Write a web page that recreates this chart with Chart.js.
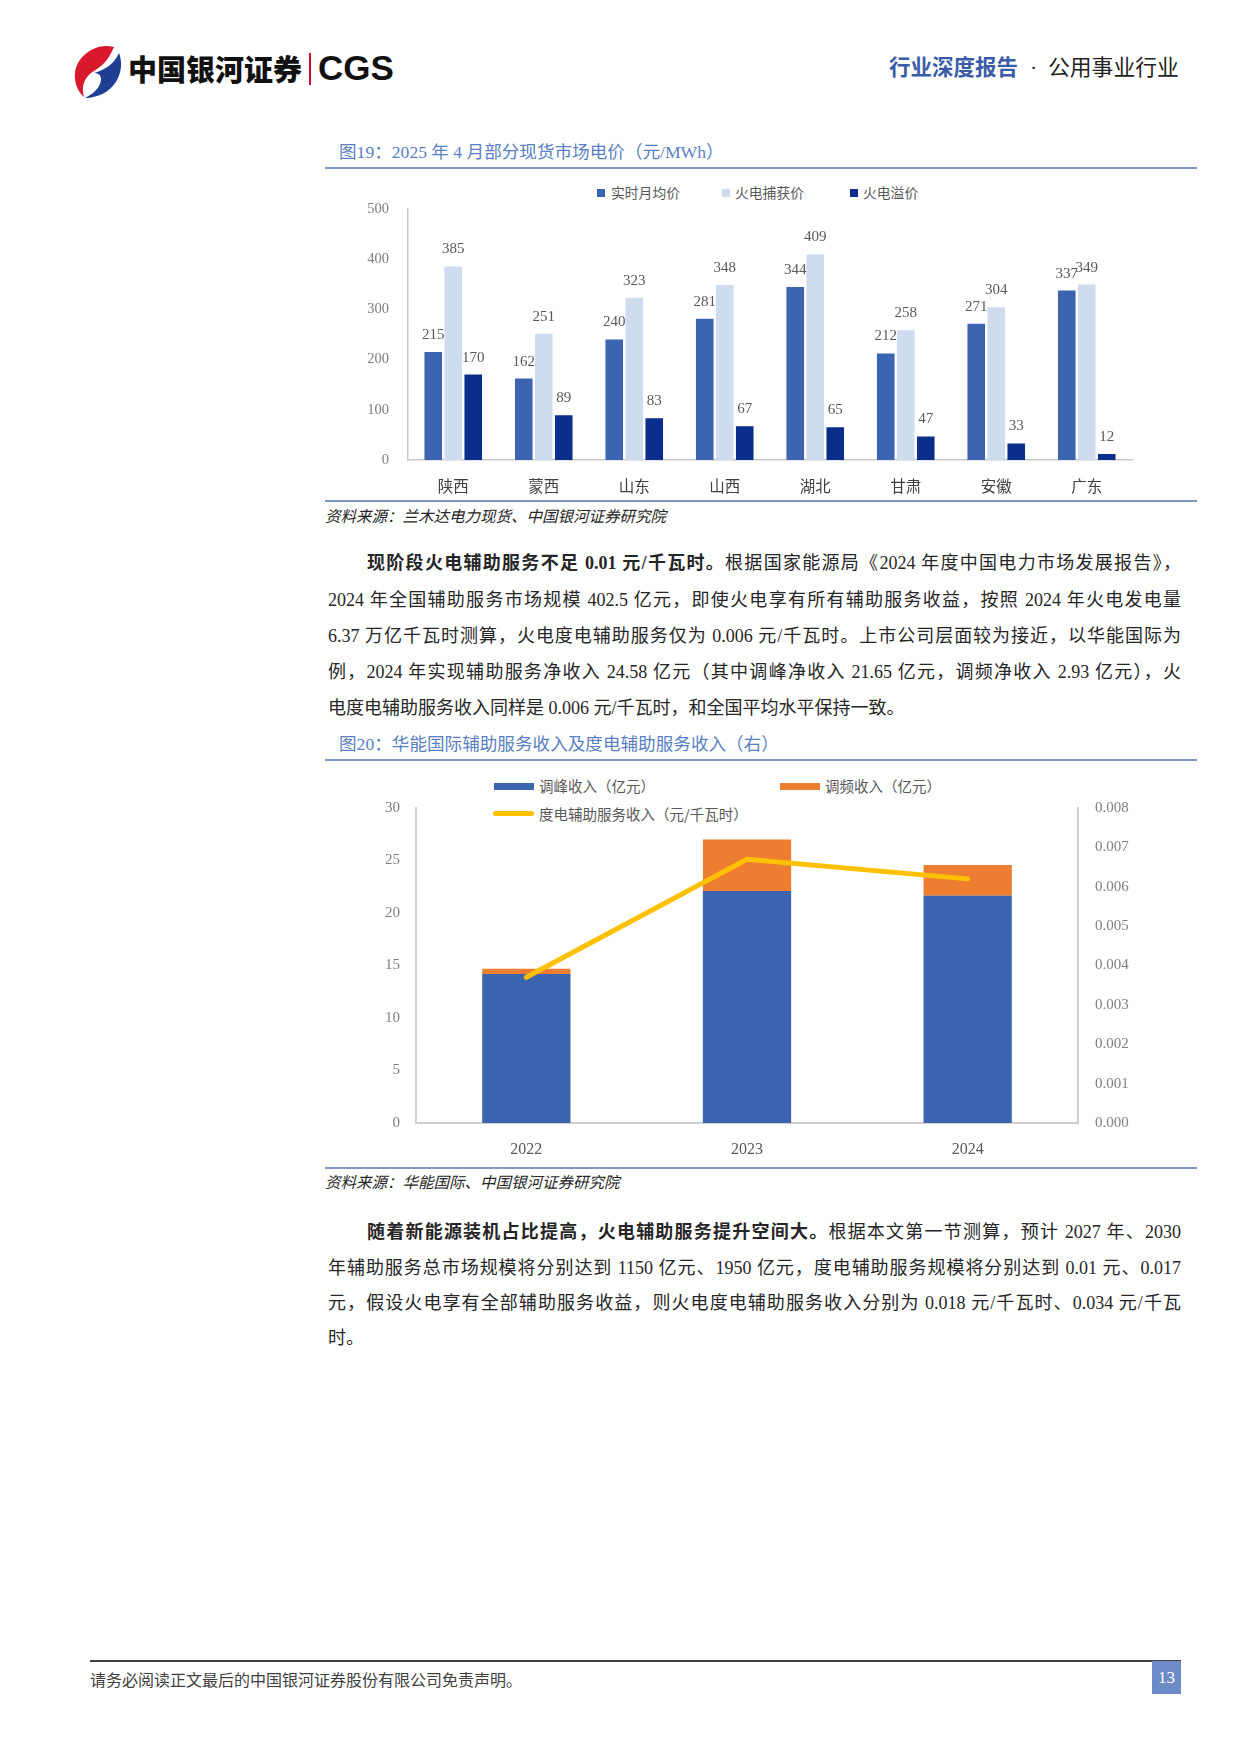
<!DOCTYPE html>
<html>
<head>
<meta charset="utf-8">
<script src="https://cdn.jsdelivr.net/npm/chart.js@4.4.1/dist/chart.umd.min.js"></script>
<style>
  html, body { margin:0; padding:0; background:#fff; }
  body { width:1241px; height:1754px; position:relative; overflow:hidden;
         font-family:"Liberation Serif","Noto Sans CJK SC",serif; color:#262626; }
  .abs { position:absolute; white-space:nowrap; }
  .rule { position:absolute; left:325px; width:872px; height:2px; background:#8196c4; }
  .title { position:absolute; left:339px; font-size:17.6px; color:#5a7fc2; line-height:24px; white-space:nowrap; }
  .src { position:absolute; left:325px; font-size:15.5px; font-style:italic; color:#262626; line-height:20px; white-space:nowrap; }
  .line { position:absolute; font-size:18px; line-height:36px; height:36px; color:#262626; }
  .j { text-align:justify; text-align-last:justify; }
  .leg { position:absolute; font-family:"Noto Sans CJK SC",sans-serif; color:#595959; white-space:nowrap; }
  .sq { position:absolute; }
  canvas { position:absolute; }
</style>
</head>
<body>
<!-- header -->
<svg class="abs" style="left:72px;top:44px" width="50" height="54" viewBox="0 0 50 54">
  <path d="M42 3 C24 -2 4 12 3 30 C2 40 7 49 12 53 C9 43 12 33 22 27 C30 22 36 17 42 3 Z" fill="#d8192b"/>
  <path d="M47 9 C52 22 48 39 34 48 C27 52 19 54 13 54 C23 49 29 42 29 35 C29 31 26 29 22 29 C33 26 43 19 47 9 Z" fill="#1e3f94"/>
</svg>
<div class="abs" style="left:128px;top:48px;font-family:'Noto Sans CJK SC';font-weight:900;font-size:29px;line-height:40px;color:#111">中国银河证券</div>
<div class="abs" style="left:309px;top:53px;width:2px;height:32px;background:#c8102e"></div>
<div class="abs" style="left:318px;top:47px;font-family:'Liberation Sans';font-weight:bold;font-size:35px;line-height:42px;color:#111">CGS</div>
<div class="abs" style="left:889px;top:54px;font-size:21.5px;line-height:28px;color:#3a5ca8;font-weight:bold">行业深度报告</div>
<div class="abs" style="left:1030px;top:54px;font-size:21.5px;line-height:28px;color:#222">·</div>
<div class="abs" style="left:1048px;top:54px;font-size:21.8px;line-height:28px;color:#222">公用事业行业</div>

<!-- figure 19 -->
<div class="title" style="top:140px">图19：2025 年 4 月部分现货市场电价（元/MWh）</div>
<div class="rule" style="top:167px"></div>
<div class="sq" style="left:597px;top:189px;width:8px;height:8px;background:#3c64b1"></div>
<div class="leg" style="left:611px;top:183px;font-size:13.8px;line-height:18px">实时月均价</div>
<div class="sq" style="left:722px;top:189px;width:8px;height:8px;background:#cfdcf0"></div>
<div class="leg" style="left:735px;top:183px;font-size:13.8px;line-height:18px">火电捕获价</div>
<div class="sq" style="left:850px;top:189px;width:8px;height:8px;background:#0b2e8a"></div>
<div class="leg" style="left:863px;top:183px;font-size:13.8px;line-height:18px">火电溢价</div>
<canvas id="c1" width="810" height="317" style="left:340px;top:181px"></canvas>
<div class="rule" style="top:500px"></div>
<div class="src" style="top:507px">资料来源：兰木达电力现货、中国银河证券研究院</div>

<!-- paragraph 1 -->
<div class="line j" style="left:367px;width:814px;top:545px"><b>现阶段火电辅助服务不足 0.01 元/千瓦时。</b>根据国家能源局《2024 年度中国电力市场发展报告》，</div>
<div class="line j" style="left:328px;width:853px;top:582px">2024 年全国辅助服务市场规模 402.5 亿元，即使火电享有所有辅助服务收益，按照 2024 年火电发电量</div>
<div class="line j" style="left:328px;width:853px;top:618px">6.37 万亿千瓦时测算，火电度电辅助服务仅为 0.006 元/千瓦时。上市公司层面较为接近，以华能国际为</div>
<div class="line j" style="left:328px;width:853px;top:654px">例，2024 年实现辅助服务净收入 24.58 亿元（其中调峰净收入 21.65 亿元，调频净收入 2.93 亿元），火</div>
<div class="line" style="left:328px;width:853px;top:690px">电度电辅助服务收入同样是 0.006 元/千瓦时，和全国平均水平保持一致。</div>

<!-- figure 20 -->
<div class="title" style="top:732px">图20：华能国际辅助服务收入及度电辅助服务收入（右）</div>
<div class="rule" style="top:759px"></div>
<div class="sq" style="left:494px;top:783px;width:40px;height:7px;background:#3c64af"></div>
<div class="leg" style="left:539px;top:776px;font-size:14.5px;line-height:20px">调峰收入（亿元）</div>
<div class="sq" style="left:780px;top:783px;width:40px;height:7px;background:#ed7d31"></div>
<div class="leg" style="left:825px;top:776px;font-size:14.5px;line-height:20px">调频收入（亿元）</div>
<div class="sq" style="left:493px;top:811px;width:41px;height:5px;border-radius:3px;background:#ffc000"></div>
<div class="leg" style="left:539px;top:804px;font-size:14.5px;line-height:20px">度电辅助服务收入（元/千瓦时）</div>
<canvas id="c2" width="820" height="383" style="left:340px;top:782px"></canvas>
<div class="rule" style="top:1167px"></div>
<div class="src" style="top:1173px">资料来源：华能国际、中国银河证券研究院</div>

<!-- paragraph 2 -->
<div class="line j" style="left:367px;width:814px;top:1214px"><b>随着新能源装机占比提高，火电辅助服务提升空间大。</b>根据本文第一节测算，预计 2027 年、2030</div>
<div class="line j" style="left:328px;width:853px;top:1250px">年辅助服务总市场规模将分别达到 1150 亿元、1950 亿元，度电辅助服务规模将分别达到 0.01 元、0.017</div>
<div class="line j" style="left:328px;width:853px;top:1285px">元，假设火电享有全部辅助服务收益，则火电度电辅助服务收入分别为 0.018 元/千瓦时、0.034 元/千瓦</div>
<div class="line" style="left:328px;width:853px;top:1320px">时。</div>

<!-- footer -->
<div class="abs" style="left:90px;top:1660px;width:1091px;height:2px;background:#404040"></div>
<div class="abs" style="left:90px;top:1668px;font-family:'Noto Sans CJK SC';font-size:16px;line-height:22px;color:#404040">请务必阅读正文最后的中国银河证券股份有限公司免责声明。</div>
<div class="abs" style="left:1152px;top:1661px;width:29px;height:33px;background:#6d8cc7;color:#fff;font-size:17px;line-height:33px;text-align:center">13</div>

<script>
// ---------- data: figure 19 ----------
const categories1 = ['陕西','蒙西','山东','山西','湖北','甘肃','安徽','广东'];
const realtimeAvg = [215,162,240,281,344,212,271,337];
const thermalCapture = [385,251,323,348,409,258,304,349];
const thermalPremium = [170,89,83,67,65,47,33,12];
const seriesNames1 = ['实时月均价','火电捕获价','火电溢价'];
const yTicks1 = [0,100,200,300,400,500];

// ---------- data: figure 20 ----------
const years = ['2022','2023','2024'];
const peakRevenue = [14.2,22.1,21.65];
const freqRevenue = [0.5,4.9,2.93];
const perKwhRevenue = [0.0037,0.0067,0.0062];
const seriesNames2 = ['调峰收入（亿元）','调频收入（亿元）','度电辅助服务收入（元/千瓦时）'];

Chart.defaults.animation = false;
Chart.defaults.devicePixelRatio = 1;
const serif = 'Liberation Serif';
const cjk = 'Noto Sans CJK SC';

const valueLabels = {
  id:'valueLabels',
  afterDatasetsDraw(chart){
    const ctx = chart.ctx;
    ctx.save();
    ctx.font = '15px "' + serif + '"';
    ctx.fillStyle = '#595959';
    ctx.textAlign = 'center';
    ctx.textBaseline = 'alphabetic';
    chart.data.datasets.forEach((ds, di) => {
      chart.getDatasetMeta(di).data.forEach((bar, i) => {
        ctx.fillText(String(ds.data[i]), bar.x, bar.y - 13);
      });
    });
    ctx.restore();
  }
};

new Chart(document.getElementById('c1'), {
  type:'bar',
  data:{
    labels: categories1,
    datasets:[
      {label:seriesNames1[0], data:realtimeAvg, backgroundColor:'#3c64b1'},
      {label:seriesNames1[1], data:thermalCapture, backgroundColor:'#cfdcf0'},
      {label:seriesNames1[2], data:thermalPremium, backgroundColor:'#0b2e8a'}
    ]
  },
  options:{
    responsive:false,
    categoryPercentage:0.663,
    barPercentage:0.88,
    layout:{padding:{top:0,right:18,bottom:0,left:0}},
    plugins:{legend:{display:false}, tooltip:{enabled:false}},
    scales:{
      x:{
        grid:{display:false, drawTicks:false},
        border:{display:true, color:'#c9c9c9', width:1.5},
        ticks:{padding:17, color:'#404040', font:{family:cjk, size:15.5}},
        afterFit(s){ s.height = 38; }
      },
      y:{
        min:0, max:500,
        afterBuildTicks(s){ s.ticks = yTicks1.map(v=>({value:v})); },
        grid:{display:false, drawTicks:false},
        border:{display:true, color:'#c9c9c9', width:1.5},
        ticks:{padding:19, color:'#7f7f7f', font:{family:serif, size:14.5}},
        afterFit(s){ s.width = 68; }
      }
    }
  },
  plugins:[valueLabels]
});

new Chart(document.getElementById('c2'), {
  data:{
    labels: years,
    datasets:[
      {type:'line', label:seriesNames2[2], data:perKwhRevenue, yAxisID:'y1',
       borderColor:'#ffc000', borderWidth:5, pointRadius:0, tension:0,
       borderCapStyle:'round', order:0},
      {type:'bar', label:seriesNames2[0], data:peakRevenue, yAxisID:'y',
       backgroundColor:'#3c64af', stack:'s', order:1},
      {type:'bar', label:seriesNames2[1], data:freqRevenue, yAxisID:'y',
       backgroundColor:'#ed7d31', stack:'s', order:1}
    ]
  },
  options:{
    responsive:false,
    categoryPercentage:1,
    barPercentage:0.4,
    layout:{padding:{top:0,right:0,bottom:0,left:0}},
    plugins:{legend:{display:false}, tooltip:{enabled:false}},
    scales:{
      x:{
        stacked:true,
        grid:{display:false, drawTicks:false},
        border:{display:true, color:'#d0d0d0', width:2},
        ticks:{padding:17, color:'#595959', font:{family:serif, size:16}},
        afterFit(s){ s.height = 42; }
      },
      y:{
        stacked:true, min:0, max:30,
        ticks:{stepSize:5, padding:16, color:'#7f7f7f', font:{family:serif, size:15}},
        grid:{display:false, drawTicks:false},
        border:{display:true, color:'#d0d0d0', width:2},
        afterFit(s){ s.width = 76; }
      },
      y1:{
        position:'right', min:0, max:0.008,
        ticks:{stepSize:0.001, padding:17, color:'#7f7f7f', font:{family:serif, size:15},
               callback:(v)=>Number(v).toFixed(3)},
        grid:{display:false, drawTicks:false},
        border:{display:true, color:'#d0d0d0', width:2},
        afterFit(s){ s.width = 82; }
      }
    }
  }
});
</script>
</body>
</html>
